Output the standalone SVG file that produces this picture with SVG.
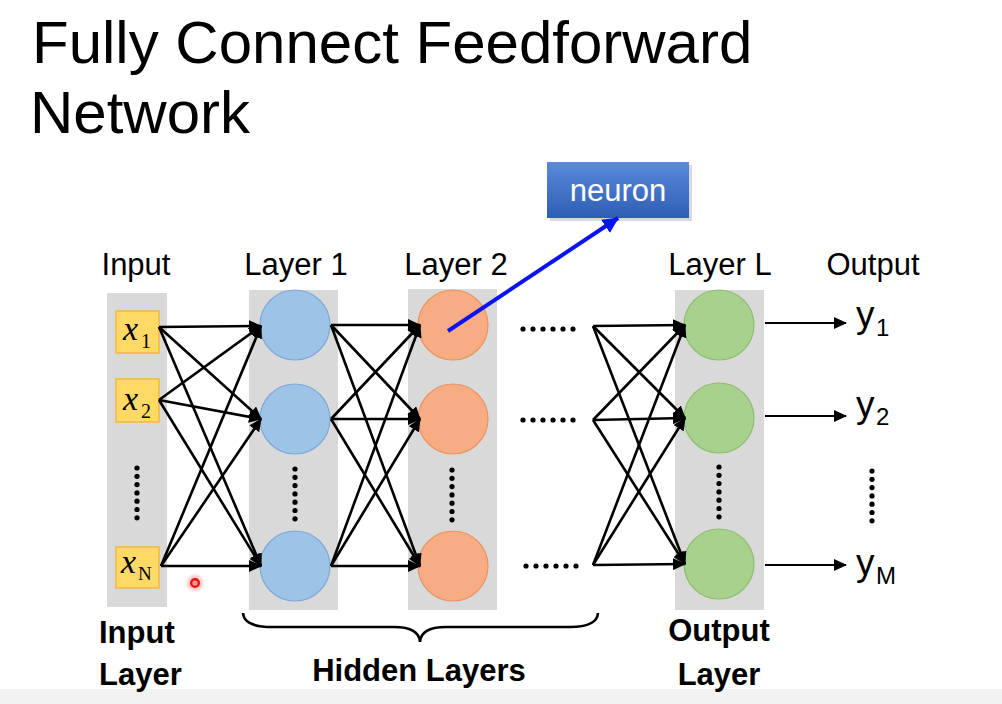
<svg xmlns="http://www.w3.org/2000/svg" width="1002" height="704" viewBox="0 0 1002 704">
<defs>
<style>
.t{font-family:"Liberation Sans",Arial,sans-serif;fill:#000}
.title{font-size:60px}
.lbl{font-size:31px}
.bl{font-size:31px;font-weight:bold}
.col{fill:#D9D9D9}
.xbox{fill:#FFD966;stroke:#F2B643;stroke-width:1.5}
.xs{font-family:"Liberation Serif","Times New Roman",serif;fill:#000}
.c1{fill:#9DC3E6;stroke:#7EA8D8;stroke-width:1.2}
.c2{fill:#F7AC84;stroke:#E99461;stroke-width:1.2}
.c3{fill:#A9D18E;stroke:#8DBE70;stroke-width:1.2}
.ln{stroke:#000;stroke-width:2.6;fill:none;marker-end:url(#ah)}
.dot{fill:#000}
</style>
<marker id="ah" markerUnits="userSpaceOnUse" markerWidth="14" markerHeight="12" refX="12" refY="6" orient="auto">
<path d="M0,0 L13,6 L0,12 Z" fill="#000"/>
</marker>
<marker id="bh" markerUnits="userSpaceOnUse" markerWidth="18" markerHeight="16" refX="15" refY="8" orient="auto">
<path d="M0,0 L16,8 L0,16 Z" fill="#0A14F0"/>
</marker>
<linearGradient id="ng" x1="0" y1="0" x2="0" y2="1">
<stop offset="0" stop-color="#5A8AD9"/>
<stop offset="1" stop-color="#2E5DB6"/>
</linearGradient>
<radialGradient id="rg">
<stop offset="0" stop-color="#ff3030" stop-opacity="0.6"/>
<stop offset="1" stop-color="#ff3030" stop-opacity="0"/>
</radialGradient>
<g id="vd"><circle cx="0" cy="0" r="2.6"/><circle cx="0" cy="8.3" r="2.6"/><circle cx="0" cy="16.6" r="2.6"/><circle cx="0" cy="24.9" r="2.6"/><circle cx="0" cy="33.2" r="2.6"/><circle cx="0" cy="41.5" r="2.6"/><circle cx="0" cy="49.8" r="2.6"/></g>
<g id="hd"><circle cx="0" cy="0" r="2.6"/><circle cx="10" cy="0" r="2.6"/><circle cx="20" cy="0" r="2.6"/><circle cx="30" cy="0" r="2.6"/><circle cx="40" cy="0" r="2.6"/><circle cx="50" cy="0" r="2.6"/></g>
</defs>
<rect x="0" y="0" width="1002" height="704" fill="#fff"/>
<rect x="0" y="689" width="1002" height="15" fill="#F2F2F2"/>

<g id="title">
<text class="t title" x="32" y="63">Fully Connect Feedforward</text>
<text class="t title" x="30" y="133">Network</text>
</g>

<g id="headers">
<text class="t lbl" x="136" y="275" text-anchor="middle">Input</text>
<text class="t lbl" x="296" y="275" text-anchor="middle">Layer 1</text>
<text class="t lbl" x="456" y="275" text-anchor="middle">Layer 2</text>
<text class="t lbl" x="720" y="275" text-anchor="middle">Layer L</text>
<text class="t lbl" x="873" y="275" text-anchor="middle">Output</text>
</g>

<g id="columns">
<rect class="col" x="107" y="293" width="60" height="314"/>
<rect class="col" x="249" y="290" width="89" height="320"/>
<rect class="col" x="408" y="289" width="89" height="321"/>
<rect class="col" x="675" y="290" width="89" height="320"/>
</g>

<g id="input-x1"><rect class="xbox" x="116" y="311" width="43" height="42"/><text class="xs" x="123" y="340" font-size="34" font-style="italic">x</text><text class="xs" x="141" y="348" font-size="20">1</text></g>
<g id="input-x2"><rect class="xbox" x="116" y="379" width="43" height="43"/><text class="xs" x="123" y="410" font-size="34" font-style="italic">x</text><text class="xs" x="141" y="418" font-size="20">2</text></g>
<g id="input-xN"><rect class="xbox" x="116" y="547" width="43" height="41"/><text class="xs" x="121" y="573" font-size="34" font-style="italic">x</text><text class="xs" x="138" y="580" font-size="19">N</text></g>
<g id="input-dots" class="dot"><use href="#vd" x="137" y="468"/></g>

<g id="l1-n1"><circle class="c1" cx="295" cy="325" r="35"/></g>
<g id="l1-n2"><circle class="c1" cx="295" cy="419" r="35"/></g>
<g id="l1-n3"><circle class="c1" cx="295" cy="566" r="35"/></g>
<g id="l1-dots" class="dot"><use href="#vd" x="295" y="469"/></g>

<g id="l2-n1"><circle class="c2" cx="453" cy="325" r="35"/></g>
<g id="l2-n2"><circle class="c2" cx="453" cy="419" r="35"/></g>
<g id="l2-n3"><circle class="c2" cx="453" cy="566" r="35"/></g>
<g id="l2-dots" class="dot"><use href="#vd" x="452" y="470"/></g>

<g id="lL-n1"><circle class="c3" cx="719" cy="325" r="35"/></g>
<g id="lL-n2"><circle class="c3" cx="719" cy="418" r="35"/></g>
<g id="lL-n3"><circle class="c3" cx="719" cy="564" r="35"/></g>
<g id="lL-dots" class="dot"><use href="#vd" x="719" y="467"/></g>

<g id="mid-dots" class="dot">
<use href="#hd" x="523" y="329"/>
<use href="#hd" x="523" y="420"/>
<use href="#hd" x="526" y="566"/>
</g>

<g id="outputs">
<text class="t" x="856" y="327" font-size="37">y</text><text class="t" x="876" y="336" font-size="24">1</text>
<text class="t" x="856" y="417" font-size="37">y</text><text class="t" x="876" y="425" font-size="24">2</text>
<text class="t" x="856" y="575" font-size="37">y</text><text class="t" x="876" y="584" font-size="24">M</text>
<g class="dot"><use href="#vd" x="872" y="471"/></g>
</g>

<g id="neuron">
<rect x="550" y="165" width="142" height="56" fill="#000" opacity="0.15"/>
<rect x="547" y="162" width="142" height="56" fill="url(#ng)"/>
<text class="t" x="618" y="201" font-size="31" text-anchor="middle" style="fill:#fff">neuron</text>
</g>

<g id="connectors">
<line class="ln" x1="159" y1="327" x2="261" y2="326"/>
<line class="ln" x1="159" y1="327" x2="261" y2="419"/>
<line class="ln" x1="159" y1="327" x2="261" y2="566"/>
<line class="ln" x1="159" y1="400" x2="261" y2="326"/>
<line class="ln" x1="159" y1="400" x2="261" y2="419"/>
<line class="ln" x1="159" y1="400" x2="261" y2="566"/>
<line class="ln" x1="161" y1="566" x2="261" y2="326"/>
<line class="ln" x1="161" y1="566" x2="261" y2="419"/>
<line class="ln" x1="161" y1="566" x2="261" y2="566"/>

<line class="ln" x1="331" y1="325" x2="420" y2="325"/>
<line class="ln" x1="331" y1="325" x2="420" y2="419"/>
<line class="ln" x1="331" y1="325" x2="420" y2="566"/>
<line class="ln" x1="331" y1="419" x2="420" y2="325"/>
<line class="ln" x1="331" y1="419" x2="420" y2="419"/>
<line class="ln" x1="331" y1="419" x2="420" y2="566"/>
<line class="ln" x1="331" y1="566" x2="420" y2="325"/>
<line class="ln" x1="331" y1="566" x2="420" y2="419"/>
<line class="ln" x1="331" y1="566" x2="420" y2="566"/>

<line class="ln" x1="593" y1="326" x2="685" y2="325"/>
<line class="ln" x1="593" y1="326" x2="685" y2="418"/>
<line class="ln" x1="593" y1="326" x2="685" y2="564"/>
<line class="ln" x1="593" y1="420" x2="685" y2="325"/>
<line class="ln" x1="593" y1="420" x2="685" y2="418"/>
<line class="ln" x1="593" y1="420" x2="685" y2="564"/>
<line class="ln" x1="593" y1="565" x2="685" y2="325"/>
<line class="ln" x1="593" y1="565" x2="685" y2="418"/>
<line class="ln" x1="593" y1="565" x2="685" y2="564"/>

<line class="ln" x1="765" y1="323" x2="846" y2="323" style="stroke-width:2"/>
<line class="ln" x1="765" y1="416" x2="846" y2="416" style="stroke-width:2"/>
<line class="ln" x1="765" y1="565" x2="846" y2="565" style="stroke-width:2"/>

<line x1="448" y1="331" x2="618" y2="218" stroke="#0A14F0" stroke-width="4" marker-end="url(#bh)"/>
</g>

<g id="brace">
<path d="M243,613 Q244,627 272,627 L394,627 Q419,627 420,642 Q421,627 446,627 L570,627 Q597,627 598,613" fill="none" stroke="#000" stroke-width="2.6"/>
</g>

<g id="bottom-labels">
<text class="t bl" x="99" y="643">Input</text>
<text class="t bl" x="99" y="685">Layer</text>
<text class="t bl" x="419" y="681" text-anchor="middle">Hidden Layers</text>
<text class="t bl" x="719" y="641" text-anchor="middle">Output</text>
<text class="t bl" x="719" y="685" text-anchor="middle">Layer</text>
</g>

<g id="pointer">
<circle cx="195" cy="583" r="10" fill="url(#rg)"/>
<circle cx="195" cy="583" r="3.8" fill="none" stroke="#F01010" stroke-width="2.4"/>
</g>
</svg>
